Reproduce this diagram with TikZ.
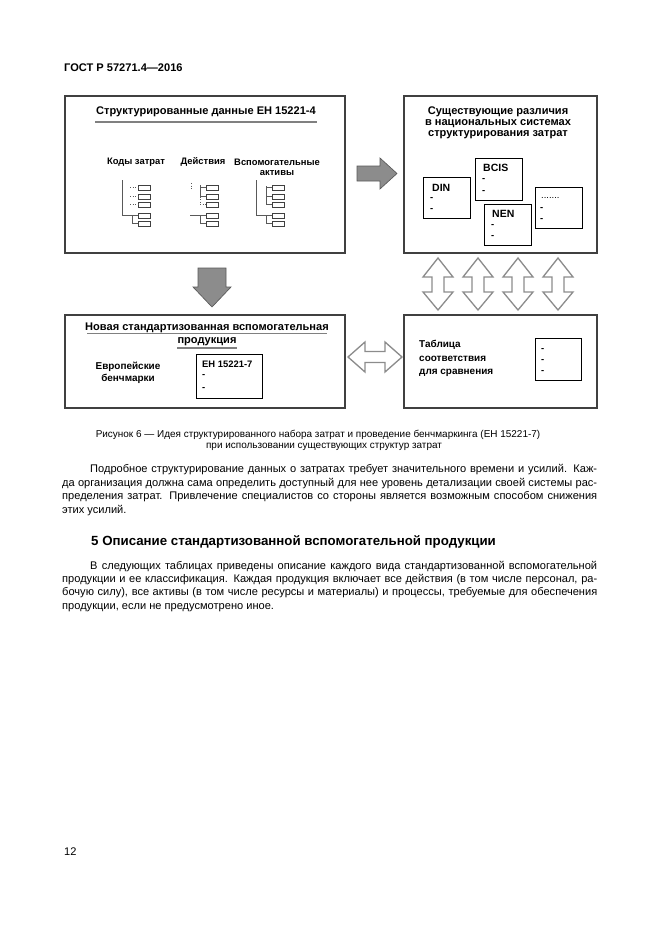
\documentclass[tikz,border=0pt]{standalone}
\usepackage{fontspec}
\setmainfont{Liberation Sans}
\usetikzlibrary{calc}

\begin{document}
\begin{tikzpicture}
      [x = 0.3177mm, y = -0.3177mm,
      panel/.style = {draw = black!75, line width = 1.1pt},
      inbox/.style = {draw = black, line width = 0.6pt},
      minibox/.style = {draw = black!75, line width = 0.8pt, fill = white},
      tree/.style = {draw = black!65, line width = 0.4pt},
      fatarrow/.style = {draw = black!65, fill = black!45, line width = 0.6pt},
      twoarrow/.style = {draw = black!45, fill = white, line width = 1.2pt},
      title/.style = {font = \fontsize{10}{10.5}\selectfont\bfseries, align = center, inner sep = 0pt},
      lab/.style = {font = \fontsize{8.5}{9}\selectfont\bfseries, align = center, inner sep = 0pt},
      small/.style = {font = \fontsize{8.5}{9}\selectfont\bfseries, anchor = west, inner sep = 0pt},
      body/.style = {font = \fontsize{10}{12}\selectfont, anchor = base west, inner sep = 0pt},
      caption/.style = {font = \fontsize{9}{10}\selectfont, anchor = base, inner sep = 0pt}
      ]

      \useasboundingbox (0, 0) rectangle (661, 935);

      % header and page number
      \node[body, font = \fontsize{10}{11}\selectfont\bfseries] (head) at (64, 72) {ГОСТ Р 57271.4—2016};
      \node[body] (pageno) at (64, 855) {12};

      % the four panels
      \draw[panel] (65, 96) rectangle (345, 253);
      \draw[panel] (404, 96) rectangle (597, 253);
      \draw[panel] (65, 315) rectangle (345, 408);
      \draw[panel] (404, 315) rectangle (597, 408);

      % panel 1
      \node[title] (costtitle) at (206, 112) {Структурированные данные ЕН 15221-4};
      \draw[black!50, line width = 1.2pt] (95, 122) -- (317, 122);
      \node[lab] (codes) at (136, 162) {Коды затрат};
      \node[lab] (acts) at (203, 162) {Действия};
      \node[lab] (assets) at (277, 167) {Вспомогательные\\активы};

      \foreach \bx in {138, 206, 272}
         \foreach \by in {187.5, 196.5, 204.5, 215.5, 223.5}
            \draw[minibox] (\bx, \by - 2.5) rectangle (\bx + 12, \by + 2.5);

      \draw[tree] (122, 180) -- (122, 215.5) -- (138, 215.5);
      \draw[tree] (132, 215.5) -- (132, 223.5) -- (138, 223.5);
      \foreach \by in {187.5, 196.5, 204.5}
         \draw[tree, dotted] (130, \by) -- (138, \by);

      \draw[tree, dotted] (191, 183) -- (191, 190);
      \draw[tree] (200, 185) -- (200, 196.5) -- (206, 196.5);
      \draw[tree] (200, 187.5) -- (206, 187.5);
      \draw[tree, dotted] (200, 196.5) -- (200, 204.5) -- (206, 204.5);
      \draw[tree] (190, 215.5) -- (206, 215.5);
      \draw[tree] (200, 215.5) -- (200, 223.5) -- (206, 223.5);

      \draw[tree] (256, 180) -- (256, 215.5) -- (272, 215.5);
      \draw[tree] (266, 186) -- (266, 204.5) -- (272, 204.5);
      \draw[tree] (266, 187.5) -- (272, 187.5);
      \draw[tree] (266, 196.5) -- (272, 196.5);
      \draw[tree] (266, 215.5) -- (266, 223.5) -- (272, 223.5);

      % panel 2
      \node[title, font = \fontsize{10}{10}\selectfont\bfseries] (nattitle) at (498, 123)
         {Существующие различия\\в национальных системах\\структурирования затрат};
      \draw[inbox] (423, 177) rectangle (470, 218);
      \node[small, font = \fontsize{9.5}{10}\selectfont\bfseries] (din) at (432, 188) {DIN};
      \node[small] (din1) at (430, 199) {-};
      \node[small] (din2) at (430, 210) {-};
      \draw[inbox] (475, 158) rectangle (522, 200);
      \node[small, font = \fontsize{9.5}{10}\selectfont\bfseries] (bcis) at (483, 168) {BCIS};
      \node[small] (bcis1) at (482, 180) {-};
      \node[small] (bcis2) at (482, 192) {-};
      \draw[inbox] (484, 204) rectangle (531, 245);
      \node[small, font = \fontsize{9.5}{10}\selectfont\bfseries] (nen) at (492, 214) {NEN};
      \node[small] (nen1) at (491, 226) {-};
      \node[small] (nen2) at (491, 237) {-};
      \draw[inbox] (535, 187) rectangle (582, 228);
      \node[small, font = \fontsize{8.5}{9}\selectfont] (other) at (541, 198) {.......};
      \node[small] (other1) at (540, 209) {-};
      \node[small] (other2) at (540, 220) {-};

      % panel 3
      \node[title, font = \fontsize{10}{12}\selectfont\bfseries] (newtitle) at (207, 334.5)
         {Новая стандартизованная вспомогательная\\продукция};
      \draw[black!50, line width = 1.2pt] (87, 333.5) -- (327, 333.5);
      \draw[black!50, line width = 1.2pt] (177, 348) -- (237, 348);
      \node[lab, font = \fontsize{9}{10.5}\selectfont\bfseries] (bench) at (128, 373) {Европейские\\бенчмарки};
      \draw[inbox] (196, 354) rectangle (262, 398);
      \node[small] (en7) at (202, 364) {ЕН 15221-7};
      \node[small] (en71) at (202, 376) {-};
      \node[small] (en72) at (202, 389) {-};

      % panel 4
      \node[small, font = \fontsize{9}{12}\selectfont\bfseries, align = left] (table) at (419, 358.5)
         {Таблица\\соответствия\\для сравнения};
      \draw[inbox] (535, 338) rectangle (581, 380);
      \node[small] (tab1) at (541, 350) {-};
      \node[small] (tab2) at (541, 361) {-};
      \node[small] (tab3) at (541, 372) {-};

      % arrows between the panels
      \draw[fatarrow] (357, 166) -- (380, 166) -- (380, 158) -- (397, 173.5)
         -- (380, 189) -- (380, 181) -- (357, 181) -- cycle;
      \draw[fatarrow] (198, 268) -- (226, 268) -- (226, 287) -- (231, 287)
         -- (212, 307) -- (193, 287) -- (198, 287) -- cycle;
      \draw[twoarrow] (348, 357) -- (365, 342) -- (365, 351.5) -- (385, 351.5)
         -- (385, 342) -- (402, 357) -- (385, 372) -- (385, 362.5)
         -- (365, 362.5) -- (365, 372) -- cycle;
      \foreach \cx in {438, 478, 518, 558}
         \draw[twoarrow] (\cx, 258) -- (\cx + 15, 277) -- (\cx + 6, 277)
            -- (\cx + 6, 292) -- (\cx + 15, 292) -- (\cx, 310) -- (\cx - 15, 292)
            -- (\cx - 6, 292) -- (\cx - 6, 277) -- (\cx - 15, 277) -- cycle;

      % caption
      \node[caption] (cap1) at (318, 437)
         {Рисунок 6 — Идея структурированного набора затрат и проведение бенчмаркинга (ЕН 15221-7)};
      \node[caption] (cap2) at (324, 448) {при использовании существующих структур затрат};

      % text below
      \node[body] (para1) at (90, 472)
         {\makebox[161.07mm][s]{Подробное структурирование данных о затратах требует значительного времени и усилий. Каж-}};
      \node[body] (para2) at (62, 486)
         {\makebox[169.97mm][s]{да организация должна сама определить доступный для нее уровень детализации своей системы рас-}};
      \node[body] (para3) at (62, 499)
         {\makebox[169.97mm][s]{пределения затрат. Привлечение специалистов со стороны является возможным способом снижения}};
      \node[body] (para4) at (62, 513) {этих усилий.};

      \node[body, font = \fontsize{12}{14}\selectfont\bfseries] (sect) at (91, 545)
         {5 Описание стандартизованной вспомогательной продукции};

      \node[body] (parb1) at (90, 569)
         {\makebox[161.07mm][s]{В следующих таблицах приведены описание каждого вида стандартизованной вспомогательной}};
      \node[body] (parb2) at (62, 582)
         {\makebox[169.97mm][s]{продукции и ее классификация. Каждая продукция включает все действия (в том числе персонал, ра-}};
      \node[body] (parb3) at (62, 595)
         {\makebox[169.97mm][s]{бочую силу), все активы (в том числе ресурсы и материалы) и процессы, требуемые для обеспечения}};
      \node[body] (parb4) at (62, 609) {продукции, если не предусмотрено иное.};

   \end{tikzpicture}
\end{document}
